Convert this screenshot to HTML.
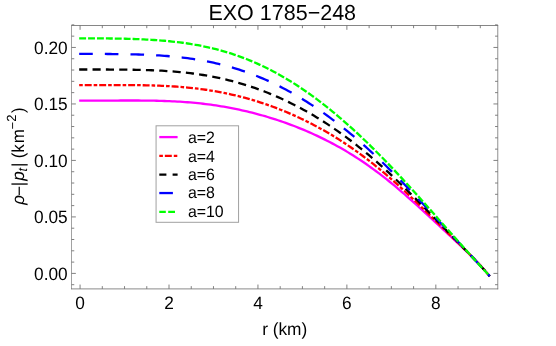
<!DOCTYPE html>
<html lang="en"><head><meta charset="utf-8"><title>EXO 1785-248</title><style>html,body{margin:0;padding:0;background:#fff;}body{width:556px;height:346px;overflow:hidden;position:relative;font-family:"Liberation Sans",sans-serif;}</style></head><body>
<svg width="556" height="346" viewBox="0 0 556 346" style="position:absolute;left:0;top:0;font-family:'Liberation Sans',sans-serif;text-rendering:geometricPrecision">
<rect x="0" y="0" width="556" height="346" fill="#ffffff"/>
<path d="M79.18 100.68 L81.76 100.68 L84.34 100.68 L86.93 100.68 L89.51 100.67 L92.09 100.66 L94.67 100.65 L97.25 100.64 L99.84 100.63 L102.42 100.62 L105.00 100.61 L107.58 100.59 L110.17 100.58 L112.75 100.56 L115.33 100.55 L117.91 100.54 L120.49 100.52 L123.08 100.51 L125.66 100.51 L128.24 100.50 L130.82 100.50 L133.40 100.50 L135.99 100.51 L138.57 100.52 L141.15 100.53 L143.73 100.55 L146.31 100.58 L148.90 100.61 L151.48 100.65 L154.06 100.70 L156.64 100.75 L159.22 100.82 L161.81 100.89 L164.39 100.98 L166.97 101.07 L169.55 101.18 L172.13 101.29 L174.72 101.42 L177.30 101.56 L179.88 101.72 L182.46 101.89 L185.04 102.07 L187.63 102.26 L190.21 102.47 L192.79 102.70 L195.37 102.94 L197.96 103.20 L200.54 103.47 L203.12 103.76 L205.70 104.07 L208.28 104.39 L210.87 104.73 L213.45 105.09 L216.03 105.47 L218.61 105.86 L221.19 106.27 L223.78 106.71 L226.36 107.16 L228.94 107.62 L231.52 108.11 L234.10 108.62 L236.69 109.15 L239.27 109.69 L241.85 110.26 L244.43 110.84 L247.01 111.45 L249.60 112.07 L252.18 112.71 L254.76 113.38 L257.34 114.06 L259.92 114.77 L262.51 115.49 L265.09 116.23 L267.67 117.00 L270.25 117.78 L272.83 118.59 L275.42 119.42 L278.00 120.26 L280.58 121.13 L283.16 122.02 L285.75 122.93 L288.33 123.86 L290.91 124.82 L293.49 125.79 L296.07 126.79 L298.66 127.82 L301.24 128.86 L303.82 129.93 L306.40 131.02 L308.98 132.14 L311.57 133.28 L314.15 134.45 L316.73 135.64 L319.31 136.86 L321.89 138.10 L324.48 139.37 L327.06 140.67 L329.64 142.00 L332.22 143.36 L334.80 144.74 L337.39 146.16 L339.97 147.60 L342.55 149.08 L345.13 150.59 L347.71 152.13 L350.30 153.70 L352.88 155.30 L355.46 156.94 L358.04 158.61 L360.62 160.31 L363.21 162.05 L365.79 163.82 L368.37 165.62 L370.95 167.46 L373.54 169.33 L376.12 171.24 L378.70 173.18 L381.28 175.15 L383.86 177.15 L386.45 179.19 L389.03 181.25 L391.61 183.35 L394.19 185.48 L396.77 187.63 L399.36 189.81 L401.94 192.02 L404.52 194.25 L407.10 196.51 L409.68 198.79 L412.27 201.08 L414.85 203.40 L417.43 205.73 L420.01 208.07 L422.59 210.43 L425.18 212.80 L427.76 215.18 L430.34 217.57 L432.92 219.96 L435.50 222.35 L438.09 224.75 L440.67 227.15 L443.25 229.56 L445.83 231.96 L448.41 234.36 L451.00 236.77 L453.58 239.18 L456.16 241.59 L458.74 244.01 L461.33 246.45 L463.91 248.89 L466.49 251.36 L469.07 253.86 L471.65 256.40 L474.24 258.99 L476.82 261.64 L479.40 264.36 L481.98 267.17 L484.56 270.10 L487.15 273.16 L489.73 276.38" fill="none" stroke="#ff00ff" stroke-width="2.3" stroke-linecap="butt" stroke-linejoin="round"/>
<path d="M79.18 85.09 L81.76 85.09 L84.34 85.09 L86.93 85.09 L89.51 85.08 L92.09 85.08 L94.67 85.08 L97.25 85.07 L99.84 85.07 L102.42 85.06 L105.00 85.06 L107.58 85.06 L110.17 85.05 L112.75 85.05 L115.33 85.05 L117.91 85.05 L120.49 85.05 L123.08 85.06 L125.66 85.07 L128.24 85.08 L130.82 85.10 L133.40 85.12 L135.99 85.15 L138.57 85.18 L141.15 85.22 L143.73 85.26 L146.31 85.32 L148.90 85.37 L151.48 85.44 L154.06 85.52 L156.64 85.61 L159.22 85.70 L161.81 85.81 L164.39 85.93 L166.97 86.05 L169.55 86.20 L172.13 86.35 L174.72 86.52 L177.30 86.70 L179.88 86.89 L182.46 87.10 L185.04 87.33 L187.63 87.57 L190.21 87.83 L192.79 88.11 L195.37 88.40 L197.96 88.71 L200.54 89.04 L203.12 89.38 L205.70 89.75 L208.28 90.13 L210.87 90.54 L213.45 90.96 L216.03 91.41 L218.61 91.87 L221.19 92.36 L223.78 92.86 L226.36 93.39 L228.94 93.94 L231.52 94.51 L234.10 95.11 L236.69 95.72 L239.27 96.36 L241.85 97.02 L244.43 97.70 L247.01 98.41 L249.60 99.14 L252.18 99.89 L254.76 100.66 L257.34 101.46 L259.92 102.28 L262.51 103.13 L265.09 103.99 L267.67 104.89 L270.25 105.80 L272.83 106.74 L275.42 107.70 L278.00 108.69 L280.58 109.70 L283.16 110.74 L285.75 111.80 L288.33 112.89 L290.91 114.00 L293.49 115.13 L296.07 116.29 L298.66 117.48 L301.24 118.69 L303.82 119.93 L306.40 121.19 L308.98 122.48 L311.57 123.80 L314.15 125.15 L316.73 126.52 L319.31 127.92 L321.89 129.35 L324.48 130.80 L327.06 132.29 L329.64 133.80 L332.22 135.34 L334.80 136.91 L337.39 138.52 L339.97 140.15 L342.55 141.81 L345.13 143.51 L347.71 145.23 L350.30 146.99 L352.88 148.77 L355.46 150.59 L358.04 152.44 L360.62 154.33 L363.21 156.24 L365.79 158.19 L368.37 160.16 L370.95 162.17 L373.54 164.22 L376.12 166.29 L378.70 168.39 L381.28 170.53 L383.86 172.69 L386.45 174.88 L389.03 177.10 L391.61 179.35 L394.19 181.63 L396.77 183.93 L399.36 186.26 L401.94 188.61 L404.52 190.99 L407.10 193.38 L409.68 195.80 L412.27 198.23 L414.85 200.68 L417.43 203.15 L420.01 205.63 L422.59 208.12 L425.18 210.62 L427.76 213.13 L430.34 215.65 L432.92 218.17 L435.50 220.70 L438.09 223.23 L440.67 225.76 L443.25 228.29 L445.83 230.82 L448.41 233.36 L451.00 235.89 L453.58 238.43 L456.16 240.96 L458.74 243.50 L461.33 246.05 L463.91 248.61 L466.49 251.18 L469.07 253.77 L471.65 256.39 L474.24 259.04 L476.82 261.74 L479.40 264.48 L481.98 267.30 L484.56 270.19 L487.15 273.18 L489.73 276.29" fill="none" stroke="#ff0000" stroke-width="2.3" stroke-dasharray="3.6 1.95 6.95 1.98" stroke-linecap="butt" stroke-linejoin="round"/>
<path d="M79.18 69.50 L81.76 69.50 L84.34 69.50 L86.93 69.50 L89.51 69.50 L92.09 69.50 L94.67 69.50 L97.25 69.50 L99.84 69.50 L102.42 69.51 L105.00 69.51 L107.58 69.52 L110.17 69.53 L112.75 69.54 L115.33 69.55 L117.91 69.57 L120.49 69.59 L123.08 69.61 L125.66 69.63 L128.24 69.67 L130.82 69.70 L133.40 69.74 L135.99 69.79 L138.57 69.85 L141.15 69.91 L143.73 69.98 L146.31 70.05 L148.90 70.14 L151.48 70.24 L154.06 70.34 L156.64 70.46 L159.22 70.58 L161.81 70.72 L164.39 70.87 L166.97 71.04 L169.55 71.21 L172.13 71.41 L174.72 71.61 L177.30 71.83 L179.88 72.07 L182.46 72.32 L185.04 72.59 L187.63 72.88 L190.21 73.19 L192.79 73.51 L195.37 73.86 L197.96 74.22 L200.54 74.60 L203.12 75.01 L205.70 75.43 L208.28 75.88 L210.87 76.34 L213.45 76.83 L216.03 77.35 L218.61 77.88 L221.19 78.44 L223.78 79.02 L226.36 79.63 L228.94 80.26 L231.52 80.91 L234.10 81.59 L236.69 82.30 L239.27 83.03 L241.85 83.78 L244.43 84.56 L247.01 85.37 L249.60 86.20 L252.18 87.06 L254.76 87.95 L257.34 88.86 L259.92 89.80 L262.51 90.76 L265.09 91.75 L267.67 92.77 L270.25 93.82 L272.83 94.89 L275.42 95.99 L278.00 97.12 L280.58 98.28 L283.16 99.46 L285.75 100.67 L288.33 101.91 L290.91 103.18 L293.49 104.47 L296.07 105.79 L298.66 107.14 L301.24 108.52 L303.82 109.93 L306.40 111.37 L308.98 112.83 L311.57 114.32 L314.15 115.85 L316.73 117.40 L319.31 118.98 L321.89 120.59 L324.48 122.23 L327.06 123.90 L329.64 125.60 L332.22 127.33 L334.80 129.09 L337.39 130.87 L339.97 132.69 L342.55 134.54 L345.13 136.42 L347.71 138.33 L350.30 140.27 L352.88 142.24 L355.46 144.25 L358.04 146.28 L360.62 148.34 L363.21 150.43 L365.79 152.55 L368.37 154.71 L370.95 156.89 L373.54 159.10 L376.12 161.34 L378.70 163.61 L381.28 165.90 L383.86 168.23 L386.45 170.58 L389.03 172.96 L391.61 175.36 L394.19 177.78 L396.77 180.23 L399.36 182.71 L401.94 185.20 L404.52 187.72 L407.10 190.25 L409.68 192.81 L412.27 195.38 L414.85 197.96 L417.43 200.56 L420.01 203.18 L422.59 205.80 L425.18 208.43 L427.76 211.07 L430.34 213.72 L432.92 216.38 L435.50 219.04 L438.09 221.70 L440.67 224.36 L443.25 227.02 L445.83 229.69 L448.41 232.35 L451.00 235.01 L453.58 237.67 L456.16 240.33 L458.74 243.00 L461.33 245.66 L463.91 248.33 L466.49 251.00 L469.07 253.68 L471.65 256.38 L474.24 259.09 L476.82 261.84 L479.40 264.61 L481.98 267.42 L484.56 270.28 L487.15 273.21 L489.73 276.21" fill="none" stroke="#000000" stroke-width="2.3" stroke-dasharray="8.15 5.2" stroke-linecap="butt" stroke-linejoin="round"/>
<path d="M79.18 53.90 L81.76 53.90 L84.34 53.90 L86.93 53.91 L89.51 53.91 L92.09 53.92 L94.67 53.92 L97.25 53.93 L99.84 53.94 L102.42 53.95 L105.00 53.97 L107.58 53.98 L110.17 54.00 L112.75 54.03 L115.33 54.05 L117.91 54.08 L120.49 54.12 L123.08 54.15 L125.66 54.20 L128.24 54.25 L130.82 54.30 L133.40 54.37 L135.99 54.43 L138.57 54.51 L141.15 54.60 L143.73 54.69 L146.31 54.79 L148.90 54.90 L151.48 55.03 L154.06 55.16 L156.64 55.31 L159.22 55.47 L161.81 55.64 L164.39 55.82 L166.97 56.02 L169.55 56.23 L172.13 56.46 L174.72 56.71 L177.30 56.97 L179.88 57.25 L182.46 57.54 L185.04 57.86 L187.63 58.19 L190.21 58.55 L192.79 58.92 L195.37 59.31 L197.96 59.73 L200.54 60.17 L203.12 60.63 L205.70 61.11 L208.28 61.62 L210.87 62.15 L213.45 62.71 L216.03 63.29 L218.61 63.89 L221.19 64.52 L223.78 65.18 L226.36 65.86 L228.94 66.58 L231.52 67.31 L234.10 68.08 L236.69 68.87 L239.27 69.69 L241.85 70.54 L244.43 71.42 L247.01 72.33 L249.60 73.27 L252.18 74.23 L254.76 75.23 L257.34 76.26 L259.92 77.31 L262.51 78.40 L265.09 79.51 L267.67 80.66 L270.25 81.84 L272.83 83.04 L275.42 84.28 L278.00 85.55 L280.58 86.85 L283.16 88.18 L285.75 89.54 L288.33 90.93 L290.91 92.35 L293.49 93.81 L296.07 95.29 L298.66 96.81 L301.24 98.35 L303.82 99.93 L306.40 101.54 L308.98 103.18 L311.57 104.85 L314.15 106.55 L316.73 108.28 L319.31 110.04 L321.89 111.83 L324.48 113.66 L327.06 115.51 L329.64 117.40 L332.22 119.31 L334.80 121.26 L337.39 123.23 L339.97 125.24 L342.55 127.27 L345.13 129.34 L347.71 131.43 L350.30 133.56 L352.88 135.71 L355.46 137.90 L358.04 140.11 L360.62 142.35 L363.21 144.62 L365.79 146.92 L368.37 149.25 L370.95 151.60 L373.54 153.98 L376.12 156.39 L378.70 158.82 L381.28 161.28 L383.86 163.77 L386.45 166.27 L389.03 168.81 L391.61 171.36 L394.19 173.94 L396.77 176.54 L399.36 179.16 L401.94 181.79 L404.52 184.45 L407.10 187.13 L409.68 189.82 L412.27 192.52 L414.85 195.25 L417.43 197.98 L420.01 200.73 L422.59 203.48 L425.18 206.25 L427.76 209.02 L430.34 211.80 L432.92 214.59 L435.50 217.38 L438.09 220.17 L440.67 222.96 L443.25 225.76 L445.83 228.55 L448.41 231.34 L451.00 234.13 L453.58 236.92 L456.16 239.71 L458.74 242.49 L461.33 245.27 L463.91 248.04 L466.49 250.82 L469.07 253.59 L471.65 256.37 L474.24 259.15 L476.82 261.94 L479.40 264.73 L481.98 267.54 L484.56 270.38 L487.15 273.23 L489.73 276.13" fill="none" stroke="#0000ff" stroke-width="2.3" stroke-dasharray="13.6 12.05" stroke-linecap="butt" stroke-linejoin="round"/>
<path d="M79.18 38.31 L81.76 38.31 L84.34 38.31 L86.93 38.32 L89.51 38.32 L92.09 38.33 L94.67 38.34 L97.25 38.36 L99.84 38.38 L102.42 38.40 L105.00 38.42 L107.58 38.45 L110.17 38.48 L112.75 38.51 L115.33 38.55 L117.91 38.60 L120.49 38.65 L123.08 38.70 L125.66 38.76 L128.24 38.83 L130.82 38.90 L133.40 38.99 L135.99 39.08 L138.57 39.18 L141.15 39.28 L143.73 39.40 L146.31 39.53 L148.90 39.67 L151.48 39.82 L154.06 39.98 L156.64 40.16 L159.22 40.35 L161.81 40.55 L164.39 40.77 L166.97 41.00 L169.55 41.25 L172.13 41.52 L174.72 41.80 L177.30 42.10 L179.88 42.42 L182.46 42.76 L185.04 43.12 L187.63 43.50 L190.21 43.90 L192.79 44.33 L195.37 44.77 L197.96 45.24 L200.54 45.73 L203.12 46.25 L205.70 46.79 L208.28 47.36 L210.87 47.96 L213.45 48.58 L216.03 49.23 L218.61 49.90 L221.19 50.61 L223.78 51.34 L226.36 52.10 L228.94 52.89 L231.52 53.71 L234.10 54.57 L236.69 55.45 L239.27 56.36 L241.85 57.31 L244.43 58.28 L247.01 59.29 L249.60 60.33 L252.18 61.41 L254.76 62.51 L257.34 63.65 L259.92 64.83 L262.51 66.03 L265.09 67.27 L267.67 68.55 L270.25 69.85 L272.83 71.20 L275.42 72.57 L278.00 73.98 L280.58 75.42 L283.16 76.90 L285.75 78.41 L288.33 79.95 L290.91 81.53 L293.49 83.14 L296.07 84.79 L298.66 86.47 L301.24 88.18 L303.82 89.93 L306.40 91.71 L308.98 93.52 L311.57 95.37 L314.15 97.25 L316.73 99.16 L319.31 101.10 L321.89 103.08 L324.48 105.08 L327.06 107.12 L329.64 109.19 L332.22 111.29 L334.80 113.43 L337.39 115.59 L339.97 117.78 L342.55 120.00 L345.13 122.26 L347.71 124.54 L350.30 126.85 L352.88 129.19 L355.46 131.55 L358.04 133.95 L360.62 136.37 L363.21 138.82 L365.79 141.29 L368.37 143.79 L370.95 146.31 L373.54 148.87 L376.12 151.44 L378.70 154.04 L381.28 156.66 L383.86 159.30 L386.45 161.97 L389.03 164.66 L391.61 167.36 L394.19 170.09 L396.77 172.84 L399.36 175.60 L401.94 178.39 L404.52 181.18 L407.10 184.00 L409.68 186.83 L412.27 189.67 L414.85 192.53 L417.43 195.40 L420.01 198.28 L422.59 201.16 L425.18 204.06 L427.76 206.97 L430.34 209.88 L432.92 212.80 L435.50 215.72 L438.09 218.64 L440.67 221.56 L443.25 224.49 L445.83 227.41 L448.41 230.34 L451.00 233.26 L453.58 236.17 L456.16 239.08 L458.74 241.98 L461.33 244.87 L463.91 247.76 L466.49 250.64 L469.07 253.50 L471.65 256.36 L474.24 259.20 L476.82 262.04 L479.40 264.86 L481.98 267.67 L484.56 270.47 L487.15 273.26 L489.73 276.04" fill="none" stroke="#00ff00" stroke-width="2.3" stroke-dasharray="6.9 2.0" stroke-linecap="butt" stroke-linejoin="round"/>
<path d="M71.5 25.1V289.25" stroke="#a2a2a2" stroke-width="1" fill="none"/>
<path d="M71.14999999999999 25.5H498.15" stroke="#868686" stroke-width="1" fill="none"/>
<path d="M497.78 25.1V289.25" stroke="#6a6a6a" stroke-width="0.75" fill="none"/>
<path d="M71.14999999999999 288.9H498.15" stroke="#6a6a6a" stroke-width="0.78" fill="none"/>
<path d="M80.07 288.85v-4.30M80.07 25.50v4.30M102.30 288.85v-2.70M102.30 25.50v2.70M124.54 288.85v-2.70M124.54 25.50v2.70M146.77 288.85v-2.70M146.77 25.50v2.70M169.01 288.85v-4.30M169.01 25.50v4.30M191.25 288.85v-2.70M191.25 25.50v2.70M213.48 288.85v-2.70M213.48 25.50v2.70M235.71 288.85v-2.70M235.71 25.50v2.70M257.95 288.85v-4.30M257.95 25.50v4.30M280.19 288.85v-2.70M280.19 25.50v2.70M302.42 288.85v-2.70M302.42 25.50v2.70M324.65 288.85v-2.70M324.65 25.50v2.70M346.89 288.85v-4.30M346.89 25.50v4.30M369.12 288.85v-2.70M369.12 25.50v2.70M391.36 288.85v-2.70M391.36 25.50v2.70M413.59 288.85v-2.70M413.59 25.50v2.70M435.83 288.85v-4.30M435.83 25.50v4.30M458.06 288.85v-2.70M458.06 25.50v2.70M480.30 288.85v-2.70M480.30 25.50v2.70M71.55 284.70h2.70M497.75 284.70h-2.70M71.55 273.40h4.30M497.75 273.40h-4.30M71.55 262.10h2.70M497.75 262.10h-2.70M71.55 250.80h2.70M497.75 250.80h-2.70M71.55 239.51h2.70M497.75 239.51h-2.70M71.55 228.21h2.70M497.75 228.21h-2.70M71.55 216.91h4.30M497.75 216.91h-4.30M71.55 205.61h2.70M497.75 205.61h-2.70M71.55 194.32h2.70M497.75 194.32h-2.70M71.55 183.02h2.70M497.75 183.02h-2.70M71.55 171.72h2.70M497.75 171.72h-2.70M71.55 160.42h4.30M497.75 160.42h-4.30M71.55 149.13h2.70M497.75 149.13h-2.70M71.55 137.83h2.70M497.75 137.83h-2.70M71.55 126.53h2.70M497.75 126.53h-2.70M71.55 115.23h2.70M497.75 115.23h-2.70M71.55 103.94h4.30M497.75 103.94h-4.30M71.55 92.64h2.70M497.75 92.64h-2.70M71.55 81.34h2.70M497.75 81.34h-2.70M71.55 70.04h2.70M497.75 70.04h-2.70M71.55 58.75h2.70M497.75 58.75h-2.70M71.55 47.45h4.30M497.75 47.45h-4.30M71.55 36.15h2.70M497.75 36.15h-2.70M71.55 24.85h2.70M497.75 24.85h-2.70" fill="none" stroke="#6a6a6a" stroke-width="0.85"/>
<rect x="156.07" y="125.8" width="82.5" height="96.5" fill="#fff" stroke="#a0a0a0" stroke-width="1"/>
<path d="M159.3 137.10H177.6" stroke="#ff00ff" stroke-width="2.3" fill="none"/>
<path d="M159.3 155.90H177.3" stroke="#ff0000" stroke-width="2.3" fill="none" stroke-dasharray="3.6 1.95 6.95 1.98"/>
<path d="M159.3 174.60H177.6" stroke="#000000" stroke-width="2.3" fill="none" stroke-dasharray="7.1 6.2 5 9"/>
<path d="M159.3 193.05H177.6" stroke="#0000ff" stroke-width="2.3" fill="none" stroke-dasharray="13.6 12.05"/>
<path d="M159.3 211.85H175.1" stroke="#00ff00" stroke-width="2.3" fill="none" stroke-dasharray="6.5 2.4 6.8 9"/>
<g opacity="0.999" fill="#000" style="will-change:transform">
<text transform="translate(67.70 279.55) scale(1 1.04)" font-size="17.3" text-anchor="end">0.00</text>
<text transform="translate(67.70 223.06) scale(1 1.04)" font-size="17.3" text-anchor="end">0.05</text>
<text transform="translate(67.70 166.57) scale(1 1.04)" font-size="17.3" text-anchor="end">0.10</text>
<text transform="translate(67.70 110.09) scale(1 1.04)" font-size="17.3" text-anchor="end">0.15</text>
<text transform="translate(67.70 53.60) scale(1 1.04)" font-size="17.3" text-anchor="end">0.20</text>
<text transform="translate(80.07 309.00) scale(1 1.04)" font-size="17.3" text-anchor="middle">0</text>
<text transform="translate(169.01 309.00) scale(1 1.04)" font-size="17.3" text-anchor="middle">2</text>
<text transform="translate(257.95 309.00) scale(1 1.04)" font-size="17.3" text-anchor="middle">4</text>
<text transform="translate(346.89 309.00) scale(1 1.04)" font-size="17.3" text-anchor="middle">6</text>
<text transform="translate(435.83 309.00) scale(1 1.04)" font-size="17.3" text-anchor="middle">8</text>
<text transform="translate(282.25 19.60) scale(1 1.01)" font-size="21.5" text-anchor="middle">EXO 1785<tspan dy="0.8">−</tspan><tspan dy="-0.8">248</tspan></text>
<text transform="translate(284.70 335.00) scale(1 1.02)" font-size="17.3" text-anchor="middle">r (km)</text>
<text transform="translate(23.8 204.77) rotate(-90) scale(1 1.02)" font-size="17"><tspan x="0.00" y="0.00" font-style="italic">ρ</tspan><tspan x="8.92" y="0.98">−</tspan><tspan x="18.53" y="0.00">|</tspan><tspan x="24.15" y="0.00" font-style="italic">p</tspan><tspan x="33.27" y="2.75" font-size="12.5" font-style="italic">t</tspan><tspan x="37.73" y="0.00">|</tspan> <tspan x="46.50" y="0.00">(</tspan><tspan x="52.14" y="0.00">k</tspan><tspan x="61.52" y="0.00">m</tspan><tspan x="75.29" y="-6.67" font-size="13">−</tspan><tspan x="83.13" y="-7.45" font-size="13">2</tspan><tspan x="91.83" y="0.00">)</tspan></text>
<text transform="translate(187.90 142.90) scale(1 1.035)" font-size="15.9" text-anchor="start">a=2</text>
<text transform="translate(187.90 161.50) scale(1 1.035)" font-size="15.9" text-anchor="start">a=4</text>
<text transform="translate(187.90 180.00) scale(1 1.035)" font-size="15.9" text-anchor="start">a=6</text>
<text transform="translate(187.90 197.95) scale(1 1.035)" font-size="15.9" text-anchor="start">a=8</text>
<text transform="translate(187.90 216.75) scale(1 1.035)" font-size="15.9" text-anchor="start">a=10</text>
</g>
</svg>
</body></html>
